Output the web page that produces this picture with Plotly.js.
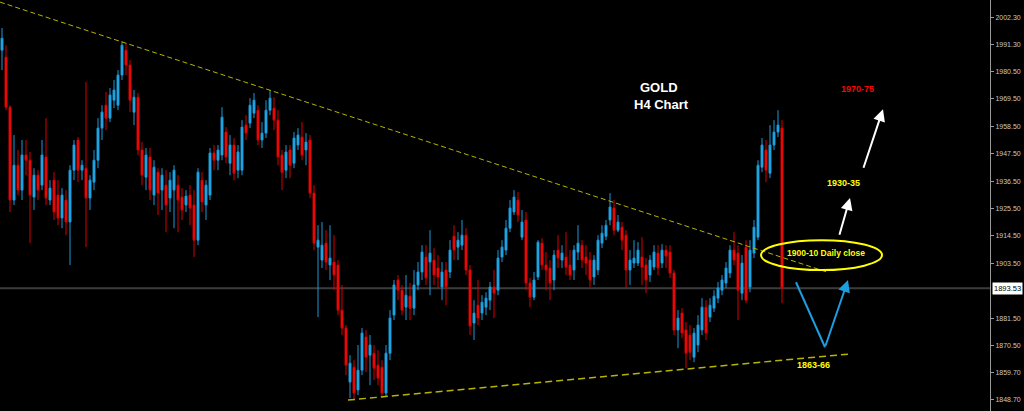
<!DOCTYPE html>
<html>
<head>
<meta charset="utf-8">
<script src="https://cdn.plot.ly/plotly-3.0.1.min.js"></script>
<style>
  html, body { margin: 0; padding: 0; background: #000; }
  #chart { width: 1024px; height: 411px; }
</style>
</head>
<body>
<div id="chart"></div>
<script>
// H4 bars (index order), prices
const openP = [1989.1,1986.3,1966.2,1928.9,1942.9,1932.9,1947.0,1944.9,1930.1,1938.9,1934.9,1946.2,1928.9,1936.9,1930.9,1921.7,1928.9,1920.1,1940.9,1953.0,
1940.9,1941.7,1929.7,1936.1,1944.9,1957.8,1967.0,1961.8,1969.0,1967.0,1979.1,1989.1,1983.1,1964.2,1970.2,1949.0,1938.1,1946.2,1930.9,1940.1,
1932.9,1934.9,1929.7,1932.9,1934.9,1930.1,1926.9,1930.9,1926.9,1912.8,1936.9,1926.9,1930.9,1947.8,1944.9,1947.0,1956.2,1943.7,1951.0,1940.9,
1940.9,1959.0,1959.8,1963.8,1965.0,1953.0,1955.8,1965.0,1965.8,1961.0,1947.0,1940.9,1949.0,1943.7,1951.0,1954.2,1949.0,1953.0,1931.7,1910.0,
1904.8,1911.6,1902.8,1904.0,1902.8,1884.7,1877.5,1855.8,1861.8,1852.6,1860.6,1873.9,1866.6,1867.4,1862.6,1861.8,1851.4,1867.4,1882.7,1896.8,
1892.7,1885.9,1890.3,1885.5,1894.8,1900.0,1906.0,1904.0,1904.8,1901.6,1894.0,1900.8,1900.0,1914.4,1910.0,1910.8,1914.8,1900.8,1879.5,1886.7,
1883.5,1885.9,1888.7,1894.0,1892.7,1906.0,1908.8,1917.6,1924.1,1928.9,1914.0,1920.9,1895.6,1889.9,1898.0,1911.6,1902.8,1901.6,1896.8,1908.8,
1904.8,1906.0,1902.8,1900.8,1908.0,1910.8,1906.0,1904.8,1898.0,1900.8,1911.6,1914.4,1920.9,1925.7,1916.8,1918.0,1914.8,1900.8,1903.6,1903.6,
1906.0,1902.8,1898.8,1902.0,1907.6,1903.6,1908.8,1908.0,1899.6,1876.7,1883.5,1876.7,1874.7,1865.8,1870.7,1876.7,1885.9,1881.9,1885.5,1889.5,
1892.7,1895.6,1899.6,1908.8,1907.6,1891.5,1910.0,1894.0,1907.6,1914.0,1942.1,1949.0,1939.7,1951.0,1956.2,1957.8];
const highP = [1998.0,1991.1,1967.0,1955.0,1949.0,1953.0,1953.0,1948.2,1941.7,1940.9,1953.0,1961.8,1936.9,1940.1,1936.9,1933.7,1932.9,1942.9,1953.0,1954.2,
1944.9,1976.3,1938.9,1949.0,1961.8,1967.0,1972.3,1973.9,1977.1,1981.1,1992.7,1991.9,1985.1,1973.1,1971.9,1952.2,1949.8,1949.8,1944.9,1941.7,
1941.7,1940.9,1940.1,1942.9,1938.9,1933.7,1932.9,1934.9,1932.9,1941.7,1940.1,1936.9,1949.8,1951.0,1951.0,1966.2,1958.2,1955.0,1953.8,1951.0,
1961.0,1963.0,1969.8,1971.9,1967.0,1960.2,1969.0,1973.1,1970.2,1965.0,1949.0,1951.0,1951.0,1956.2,1957.8,1960.2,1955.8,1955.0,1934.9,1918.8,
1920.1,1916.8,1918.8,1914.8,1904.8,1894.8,1878.7,1866.6,1864.6,1870.7,1877.5,1876.7,1874.7,1870.7,1868.6,1864.6,1870.7,1884.7,1896.8,1898.8,
1894.8,1898.8,1895.6,1900.8,1904.0,1910.8,1910.8,1916.8,1909.6,1906.8,1904.0,1904.0,1912.8,1918.8,1916.0,1920.9,1917.6,1902.8,1888.7,1896.8,
1890.7,1891.9,1896.0,1900.8,1908.8,1912.8,1920.9,1928.9,1932.9,1932.1,1924.9,1924.1,1897.6,1900.0,1912.8,1913.6,1908.0,1904.8,1908.8,1914.8,
1910.8,1916.0,1908.8,1910.8,1918.8,1912.8,1910.8,1908.0,1906.8,1914.8,1918.8,1920.9,1931.7,1928.9,1922.9,1920.1,1916.8,1908.8,1912.8,1912.0,
1914.0,1905.6,1906.8,1910.8,1910.8,1911.2,1910.8,1910.8,1900.8,1884.7,1885.5,1879.9,1878.7,1877.5,1882.7,1889.5,1888.7,1889.5,1892.7,1896.0,
1898.8,1904.0,1910.8,1916.0,1910.8,1906.8,1912.8,1912.8,1920.9,1944.9,1953.8,1953.0,1959.0,1961.0,1965.0,1961.0];
const lowP = [1981.1,1965.0,1924.1,1926.9,1930.9,1928.9,1938.9,1911.6,1924.9,1928.9,1932.9,1926.9,1926.9,1920.9,1918.8,1917.6,1914.8,1902.8,1936.9,1936.1,
1936.9,1910.0,1924.9,1932.9,1941.7,1953.0,1957.0,1960.2,1965.8,1965.0,1977.1,1979.1,1964.2,1959.0,1947.0,1934.9,1932.9,1928.9,1926.9,1922.9,
1924.9,1916.0,1924.1,1917.6,1916.0,1920.9,1924.1,1918.8,1906.0,1910.8,1924.1,1920.9,1928.9,1940.9,1940.9,1944.9,1943.7,1938.9,1936.9,1937.7,
1938.9,1953.0,1957.8,1961.8,1951.0,1949.8,1953.8,1963.0,1957.0,1942.9,1932.9,1937.7,1937.7,1941.7,1949.0,1944.9,1942.9,1929.7,1908.8,1881.9,
1901.6,1900.8,1896.8,1892.7,1882.7,1874.7,1858.6,1849.4,1848.6,1850.6,1858.6,1859.8,1854.6,1856.6,1854.6,1849.4,1850.2,1864.6,1880.7,1888.7,
1882.7,1880.7,1880.7,1882.7,1892.7,1896.8,1894.8,1890.7,1894.8,1893.6,1888.7,1886.7,1897.6,1904.8,1904.8,1908.8,1898.8,1874.7,1872.7,1878.7,
1880.7,1882.7,1884.7,1881.5,1890.7,1904.0,1906.8,1916.0,1922.9,1920.1,1912.8,1892.7,1885.9,1888.7,1896.8,1900.8,1892.7,1888.7,1892.7,1901.6,
1901.6,1898.8,1896.8,1896.8,1904.8,1901.6,1898.8,1894.0,1894.8,1898.8,1909.6,1912.8,1918.8,1914.8,1916.0,1908.8,1893.6,1894.8,1901.6,1902.4,
1894.8,1891.5,1896.0,1900.8,1898.8,1901.6,1901.6,1897.6,1874.7,1869.4,1873.5,1861.4,1864.6,1863.8,1867.8,1874.7,1872.7,1879.9,1883.9,1887.5,
1890.7,1893.6,1897.6,1902.8,1880.7,1888.7,1887.5,1891.9,1905.6,1912.8,1940.1,1936.1,1937.7,1949.0,1954.2,1887.5];
const closeP = [1993.9,1966.2,1928.9,1942.9,1932.9,1947.0,1944.9,1930.9,1938.9,1932.9,1947.0,1929.7,1933.7,1924.1,1921.7,1930.9,1920.1,1940.9,1951.0,1940.9,
1942.9,1929.7,1936.9,1944.9,1957.8,1964.2,1961.8,1971.1,1973.1,1979.1,1991.1,1983.1,1969.0,1970.2,1949.0,1938.9,1947.0,1932.9,1942.1,1931.7,
1938.9,1926.9,1936.9,1940.9,1928.9,1924.9,1930.5,1925.7,1912.8,1940.1,1928.1,1934.9,1947.8,1944.9,1949.0,1962.2,1946.2,1951.0,1939.7,1948.2,
1958.2,1955.8,1967.0,1969.0,1953.0,1955.8,1965.0,1969.8,1961.0,1946.2,1940.1,1948.2,1942.9,1953.8,1955.0,1947.0,1952.2,1931.7,1911.6,1912.8,
1910.8,1904.0,1905.6,1898.8,1884.7,1877.5,1862.6,1863.4,1851.4,1860.6,1875.5,1865.8,1870.7,1861.4,1857.4,1851.4,1867.4,1881.5,1894.8,1892.7,
1884.7,1890.7,1885.5,1894.8,1900.0,1908.0,1897.6,1907.6,1898.8,1898.0,1900.0,1894.0,1908.8,1908.8,1912.8,1914.8,1900.8,1878.3,1883.5,1881.5,
1887.9,1889.5,1894.0,1891.5,1905.6,1910.0,1917.6,1925.7,1930.1,1922.9,1920.1,1895.6,1889.9,1896.8,1912.0,1902.8,1900.8,1895.6,1906.8,1905.6,
1907.6,1902.0,1898.8,1908.8,1911.6,1904.8,1903.6,1896.8,1904.8,1912.8,1915.6,1918.8,1926.1,1916.8,1920.1,1912.8,1900.8,1904.8,1905.6,1908.8,
1902.0,1896.8,1904.8,1908.0,1901.6,1908.8,1906.4,1899.6,1876.7,1881.5,1875.5,1867.4,1867.8,1875.5,1878.7,1885.9,1875.5,1886.7,1890.3,1893.6,
1896.8,1901.6,1908.8,1904.8,1892.7,1903.6,1888.7,1908.8,1918.0,1942.9,1951.0,1940.9,1951.0,1956.2,1959.0,1893.53];
const barIndex = openP.map((_, i) => i);

// price axis labels
const tickVals = [2002.30,1991.30,1980.50,1969.50,1958.50,1947.50,1936.50,1925.50,1914.50,1903.50,1881.50,1870.50,1859.70,1848.70];
const tickText = ["2002.30","1991.30","1980.50","1969.50","1958.50","1947.50","1936.50","1925.50","1914.50","1903.50","1881.50","1870.50","1859.70","1848.70"];
const lastPrice = 1893.53;

// trend lines [x0, y0, x1, y1] in bar index / price
const resistanceLine = [-0.5, 2008.4, 206.25, 1900.0];
const supportLine = [86.5, 1848.6, 211.5, 1867.0];

// zone ellipse [x0, y0, x1, y1]
const dailyZone = [189.75, 1900.8, 220, 1912.8];

// projected path points
const blueV = {x: [198.5, 205.75, 211.5], y: [1895.9, 1869.8, 1896.8]};
const whiteArrow1 = {x: [209.25, 212], y: [1914.4, 1929.7]};
const whiteArrow2 = {x: [215.25, 220.25], y: [1941.3, 1965.4]};

const labels = [
  {text: "GOLD", x: 164.25, y: 1974.1, color: "#ffffff", size: 13},
  {text: "H4 Chart", x: 164.75, y: 1967.2, color: "#ffffff", size: 13},
  {text: "1970-75", x: 213.75, y: 1973.5, color: "#ff0000", size: 9},
  {text: "1930-35", x: 210.25, y: 1935.7, color: "#ffff00", size: 9},
  {text: "1900-10 Daily close", x: 206, y: 1907.6, color: "#ffff00", size: 8.5},
  {text: "1863-66", x: 202.75, y: 1862.6, color: "#ffff00", size: 9}
];

const candles = {
  type: "candlestick",
  x: barIndex, open: openP, high: highP, low: lowP, close: closeP,
  increasing: {line: {color: "#1a98d6", width: 1}, fillcolor: "#25b4f5"},
  decreasing: {line: {color: "#d80000", width: 1}, fillcolor: "#ff1010"},
  whiskerwidth: 0,
  hoverinfo: "skip",
  showlegend: false
};

const vLeg = {
  type: "scatter", mode: "lines",
  x: blueV.x.slice(0, 2), y: blueV.y.slice(0, 2),
  line: {color: "#1e9ee0", width: 2},
  hoverinfo: "skip", showlegend: false
};

const annotations = labels.map(l => ({
  x: l.x, y: l.y, xref: "x", yref: "y", text: "<b>" + l.text + "</b>",
  showarrow: false,
  font: {family: "Liberation Sans, Arial, sans-serif", size: l.size, color: l.color}
}));

function arrow(p0x, p0y, p1x, p1y, color) {
  return {x: p1x, y: p1y, ax: p0x, ay: p0y, xref: "x", yref: "y", axref: "x", ayref: "y",
    text: "", showarrow: true, arrowhead: 2, arrowsize: 1.2, arrowwidth: 2, arrowcolor: color};
}
annotations.push(arrow(whiteArrow1.x[0], whiteArrow1.y[0], whiteArrow1.x[1], whiteArrow1.y[1], "#ffffff"));
annotations.push(arrow(whiteArrow2.x[0], whiteArrow2.y[0], whiteArrow2.x[1], whiteArrow2.y[1], "#ffffff"));
annotations.push(arrow(blueV.x[1], blueV.y[1], blueV.x[2], blueV.y[2], "#1e9ee0"));
annotations.push({
  x: 1, xref: "paper", xanchor: "left", xshift: 2, y: lastPrice, yref: "y",
  text: lastPrice.toFixed(2), showarrow: false, bgcolor: "#ffffff", borderpad: 1,
  font: {family: "Liberation Sans, Arial, sans-serif", size: 7.5, color: "#000000"}
});

const shapes = [
  {type: "line", xref: "paper", x0: 0, x1: 1, yref: "y", y0: lastPrice, y1: lastPrice,
   line: {color: "#3c3c3c", width: 2}, layer: "below"},
  {type: "line", xref: "x", yref: "y", x0: resistanceLine[0], y0: resistanceLine[1], x1: resistanceLine[2], y1: resistanceLine[3],
   line: {color: "#b5b500", width: 1, dash: "5px,3px"}},
  {type: "line", xref: "x", yref: "y", x0: supportLine[0], y0: supportLine[1], x1: supportLine[2], y1: supportLine[3],
   line: {color: "#b5b500", width: 1.5, dash: "7px,4px"}},
  {type: "circle", xref: "x", yref: "y", x0: dailyZone[0], y0: dailyZone[1], x1: dailyZone[2], y1: dailyZone[3],
   line: {color: "#ffff00", width: 2}}
];

const layout = {
  width: 1024, height: 411,
  margin: {l: 0, r: 34, t: 0, b: 0},
  paper_bgcolor: "#000000", plot_bgcolor: "#000000",
  showlegend: false,
  xaxis: {range: [-0.5, 247], visible: false, rangeslider: {visible: false}, fixedrange: true},
  yaxis: {
    side: "right", range: [1844.19, 2009.25],
    tickmode: "array", tickvals: tickVals, ticktext: tickText,
    ticks: "outside", ticklen: 3, tickcolor: "#9a9a9a",
    showline: true, linecolor: "#9a9a9a", linewidth: 1,
    showgrid: false, zeroline: false,
    tickfont: {family: "Liberation Sans, Arial, sans-serif", size: 7, color: "#c8c8c8"}
  },
  annotations: annotations,
  shapes: shapes
};

Plotly.newPlot("chart", [candles, vLeg], layout, {displayModeBar: false, staticPlot: true});
</script>
</body>
</html>
